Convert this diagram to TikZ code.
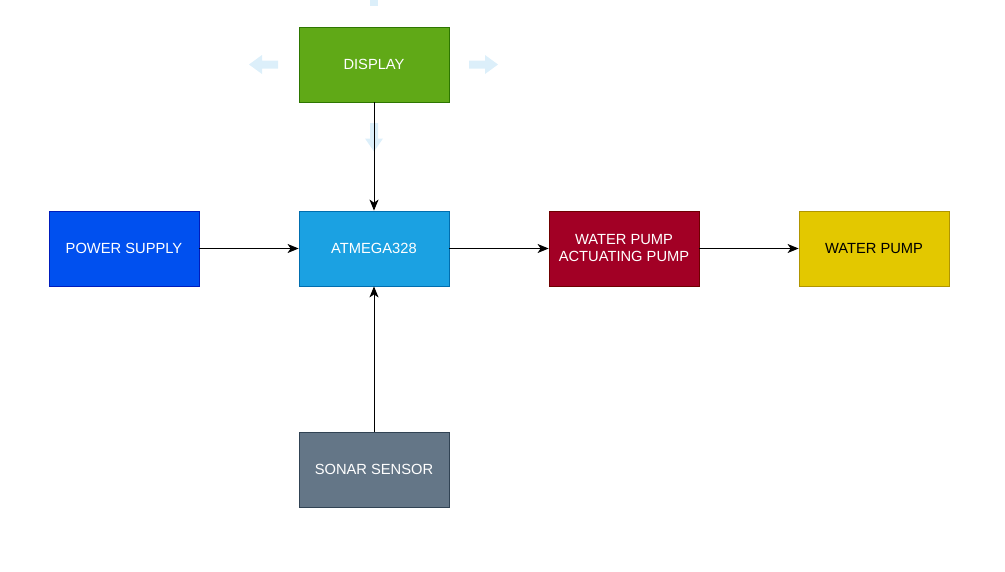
\documentclass[tikz,border=0pt]{standalone}
\usepackage{fontspec}
\setmainfont{Liberation Sans}
\usetikzlibrary{arrows.meta}
\definecolor{dispF}{HTML}{60A917}\definecolor{dispD}{HTML}{2D7600}
\definecolor{powF}{HTML}{0050EF}\definecolor{powD}{HTML}{001DBC}
\definecolor{atF}{HTML}{1BA1E2}\definecolor{atD}{HTML}{006EAF}
\definecolor{redF}{HTML}{A20025}\definecolor{redD}{HTML}{6F0000}
\definecolor{yelF}{HTML}{E3C800}\definecolor{yelD}{HTML}{B09500}
\definecolor{sonF}{HTML}{647687}\definecolor{sonD}{HTML}{314354}
\definecolor{hint}{HTML}{DCEFFA}
\tikzset{
  blk/.style={rectangle, minimum width=150pt, minimum height=75pt, inner sep=0pt,
    line width=0.8pt, text=white, align=center, font=\fontsize{14.7pt}{17pt}\selectfont},
  conn/.style={draw=black, line width=1pt, -{Stealth[length=11pt,width=9pt,inset=3pt]}},
  hintarrow/.style={fill=hint, draw=none}
}
\begin{document}
\begin{tikzpicture}[x=1pt,y=-1pt]
\useasboundingbox (0,0) rectangle (1005,571);
% faint hover arrows
\fill[hint] (370,-5) rectangle (378,5.5);
\fill[hint] (249,64.5) -- (262,55) -- (262,60.5) -- (278,60.5) -- (278,68.5) -- (262,68.5) -- (262,74) -- cycle;
\fill[hint] (498,64.5) -- (485,55) -- (485,60.5) -- (469,60.5) -- (469,68.5) -- (485,68.5) -- (485,74) -- cycle;
\fill[hint] (374,151.5) -- (365,138.5) -- (370,138.5) -- (370,123) -- (378,123) -- (378,138.5) -- (383,138.5) -- cycle;
% blocks
\node[blk, fill=dispF, draw=dispD] (disp) at (374,64.5) {DISPLAY};
\node[blk, fill=powF, draw=powD] (pow) at (124,248.5) {POWER SUPPLY};
\node[blk, fill=atF, draw=atD] (at) at (374,248.5) {ATMEGA328};
\node[blk, fill=redF, draw=redD] (act) at (624,248.5) {WATER PUMP\\ACTUATING PUMP};
\node[blk, fill=yelF, draw=yelD, text=black] (pump) at (874,248.5) {WATER PUMP};
\node[blk, fill=sonF, draw=sonD] (son) at (374,469.5) {SONAR SENSOR};
% connectors
\draw[conn] (disp.south) -- (at.north);
\draw[conn] (pow.east) -- (at.west);
\draw[conn] (at.east) -- (act.west);
\draw[conn] (act.east) -- (pump.west);
\draw[conn] (son.north) -- (at.south);
\end{tikzpicture}
\end{document}
